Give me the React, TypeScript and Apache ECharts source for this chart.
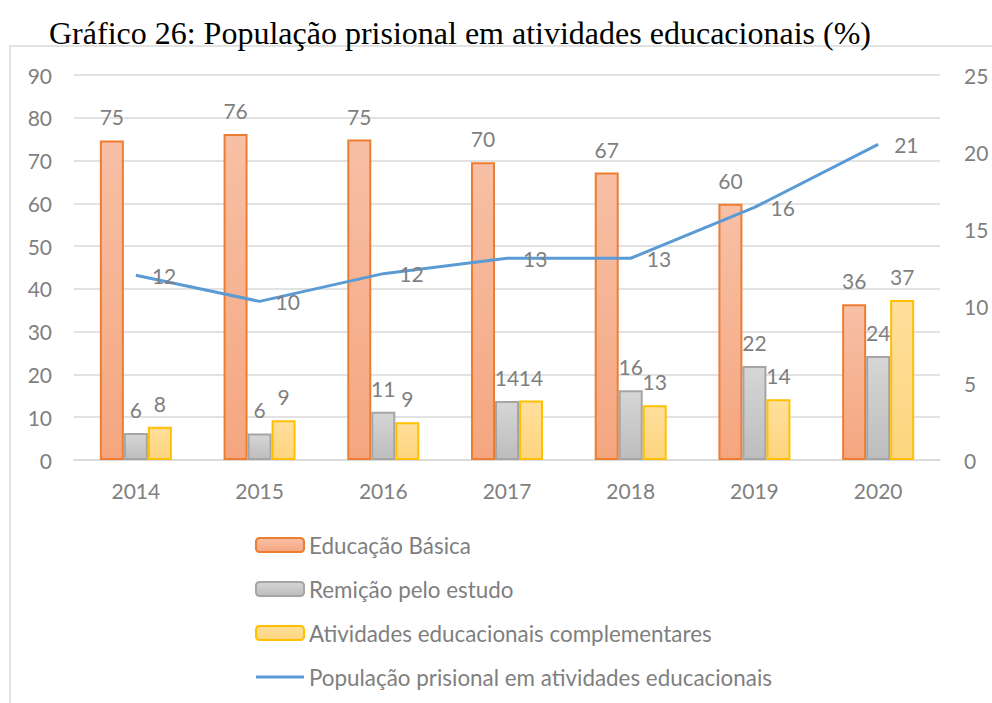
import React, { useEffect, useRef } from "react";
import * as echarts from "echarts";

const categories = ["2014", "2015", "2016", "2017", "2018", "2019", "2020"];
const educacaoBasica = [74.7, 76.2, 74.9, 69.6, 67.2, 59.9, 36.4];
const remicao = [6.3, 6.2, 11.3, 13.8, 16.3, 22.0, 24.3];
const complementares = [7.8, 9.3, 8.8, 13.9, 12.8, 14.2, 37.4];
const populacao = [12.0, 10.3, 12.1, 13.1, 13.1, 16.4, 20.5];
const seriesNames = [
  "Educação Básica",
  "Remição pelo estudo",
  "Atividades educacionais complementares",
  "População prisional em atividades educacionais",
];

const FONT = "Lato, 'Open Sans', sans-serif";
const TXT = "#7f7f7f";
const FS = 21;

function grad(top: string, bottom: string) {
  return new echarts.graphic.LinearGradient(0, 0, 0, 1, [
    { offset: 0, color: top },
    { offset: 1, color: bottom },
  ]);
}

export default function App() {
  const ref = useRef<HTMLDivElement>(null);
  useEffect(() => {
    if (!ref.current) return;
    const chart = echarts.init(ref.current, undefined, { renderer: "svg" });
    const barLabel = {
      show: true,
      position: "top" as const,
      distance: 13,
      color: TXT,
      fontSize: FS,
      fontFamily: FONT,
      formatter: (p: any) => String(Math.round(p.value)),
    };
    chart.setOption({
      animation: false,
      backgroundColor: "#fff",
      title: {
        text: "Gráfico 26: População prisional em atividades educacionais (%)",
        left: 44,
        top: 12,
        textStyle: {
          fontFamily: "'Liberation Serif', 'Times New Roman', serif",
          fontWeight: "normal",
          fontSize: 32,
          color: "#000",
        },
      },
      graphic: [
        {
          type: "rect",
          shape: { x: 10, y: 46, width: 1000, height: 700 },
          style: { fill: "none", stroke: "#d9d9d9", lineWidth: 1.5 },
          silent: true,
          z: -10,
        },
      ],
      legend: {
        orient: "vertical",
        left: 250,
        top: 529,
        itemGap: 22,
        itemWidth: 48,
        itemHeight: 14,
        textStyle: { color: TXT, fontSize: 22.4, fontFamily: FONT },
        data: [
          seriesNames[0],
          seriesNames[1],
          seriesNames[2],
          { name: seriesNames[3], icon: "path://M0,0L48,0L48,3L0,3Z" },
        ],
      },
      grid: { left: 74, right: 52, top: 75, bottom: 243 },
      xAxis: {
        type: "category",
        data: categories,
        axisLine: { lineStyle: { color: "#d9d9d9", width: 1.5 } },
        axisTick: { show: false },
        axisLabel: { color: TXT, fontSize: FS, fontFamily: FONT, margin: 20 },
      },
      yAxis: [
        {
          type: "value",
          min: 0,
          max: 90,
          interval: 10,
          axisLine: { show: false },
          axisTick: { show: false },
          splitLine: { lineStyle: { color: "#d9d9d9", width: 1.5 } },
          axisLabel: { color: TXT, fontSize: FS, fontFamily: FONT, margin: 22 },
        },
        {
          type: "value",
          min: 0,
          max: 25,
          interval: 5,
          axisLine: { show: false },
          axisTick: { show: false },
          splitLine: { show: false },
          axisLabel: { color: TXT, fontSize: FS, fontFamily: FONT, margin: 24 },
        },
      ],
      series: [
        {
          name: seriesNames[0],
          type: "bar",
          data: educacaoBasica,
          barWidth: 24,
          barGap: "0%",
          itemStyle: { color: grad("#f7c0a6", "#f5a67f"), borderColor: "#ed7d31", borderWidth: 2 },
          label: barLabel,
        },
        {
          name: seriesNames[1],
          type: "bar",
          data: remicao,
          barWidth: 24,
          barGap: "0%",
          itemStyle: { color: grad("#d6d6d6", "#bdbdbd"), borderColor: "#a5a5a5", borderWidth: 2 },
          label: barLabel,
        },
        {
          name: seriesNames[2],
          type: "bar",
          data: complementares,
          barWidth: 24,
          barGap: "0%",
          itemStyle: { color: grad("#ffdf9c", "#fed57e"), borderColor: "#ffc000", borderWidth: 2 },
          label: barLabel,
        },
        {
          name: seriesNames[3],
          type: "line",
          yAxisIndex: 1,
          data: populacao,
          symbol: "circle",
          symbolSize: 0.1,
          showSymbol: true,
          lineStyle: { color: "#5b9bd5", width: 3 },
          itemStyle: { color: "#5b9bd5" },
          label: {
            show: true,
            position: "right",
            distance: 16,
            color: TXT,
            fontSize: FS,
            fontFamily: FONT,
            formatter: (p: any) => String(Math.round(p.value)),
          },
          z: 5,
        },
      ],
    });
    return () => chart.dispose();
  }, []);
  return (
    <div
      ref={ref}
      style={{ position: "fixed", left: 0, top: 0, width: 992, height: 703 }}
    />
  );
}
